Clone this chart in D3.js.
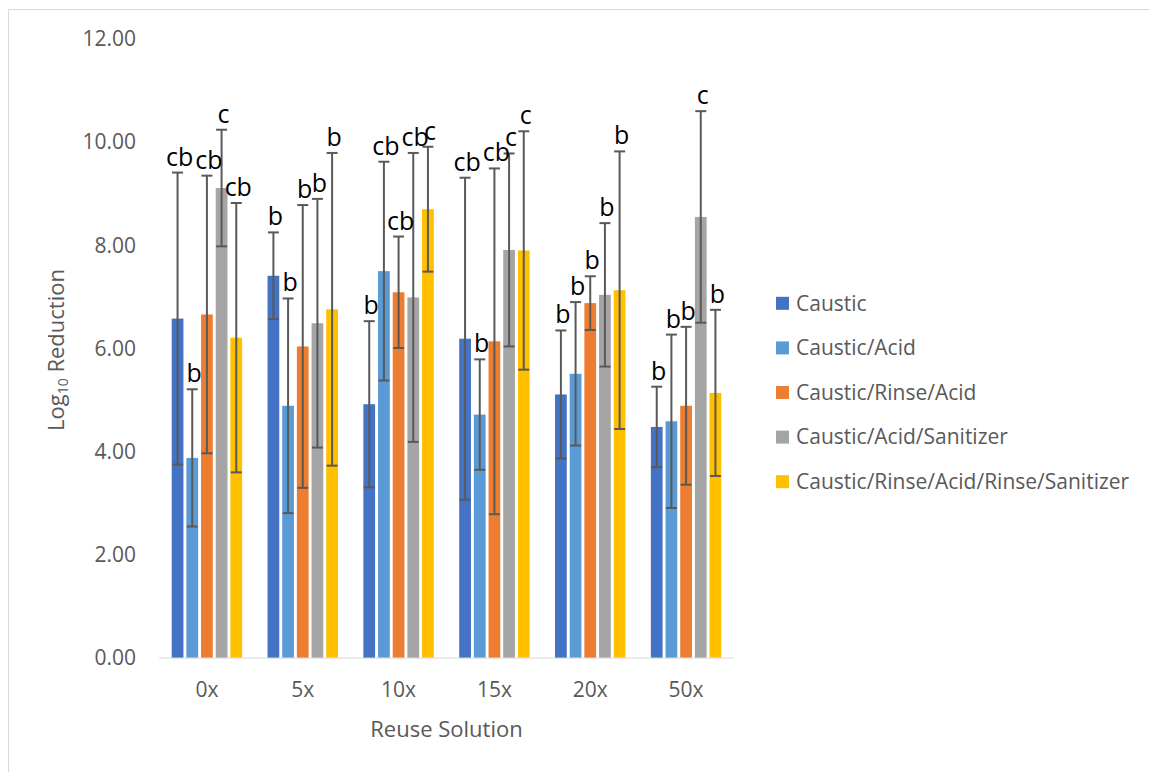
<!DOCTYPE html>
<html><head><meta charset="utf-8">
<script src="https://cdn.jsdelivr.net/npm/d3@7"></script>
<style>
html,body{margin:0;padding:0;background:#fff;}
svg{display:block;font-family:"Open Sans",sans-serif;}
</style></head>
<body>
<svg id="chart" width="1149" height="772"></svg>
<script>
const categories = ["0x","5x","10x","15x","20x","50x"];
const seriesNames = ["Caustic","Caustic/Acid","Caustic/Rinse/Acid","Caustic/Acid/Sanitizer","Caustic/Rinse/Acid/Rinse/Sanitizer"];
const seriesColors = ["#4472C4","#5B9BD5","#ED7D31","#A5A5A5","#FFC000"];
const causticMean = [6.57, 7.40, 4.91, 6.18, 5.10, 4.47];
const causticAcidMean = [3.87, 4.88, 7.49, 4.71, 5.50, 4.58];
const causticRinseAcidMean = [6.65, 6.03, 7.08, 6.13, 6.87, 4.88];
const causticAcidSanitizerMean = [9.10, 6.48, 6.98, 7.90, 7.03, 8.54];
const fullSequenceMean = [6.20, 6.75, 8.69, 7.89, 7.12, 5.13];
const causticErr = [2.83, 0.84, 1.61, 3.12, 1.24, 0.78];
const causticAcidErr = [1.33, 2.08, 2.12, 1.07, 1.39, 1.68];
const causticRinseAcidErr = [2.69, 2.74, 1.08, 3.35, 0.52, 1.53];
const causticAcidSanitizerErr = [1.13, 2.41, 2.80, 1.87, 1.39, 2.05];
const fullSequenceErr = [2.61, 3.03, 1.21, 2.31, 2.69, 1.61];
const causticLetters = ["cb","b","b","cb","b","b"];
const causticAcidLetters = ["b","b","cb","b","b","b"];
const causticRinseAcidLetters = ["cb","b","cb","cb","b","b"];
const causticAcidSanitizerLetters = ["c","b","cb","c","b","c"];
const fullSequenceLetters = ["cb","b","c","c","b","b"];
const yTicks = [0,2,4,6,8,10,12];

const means = [causticMean, causticAcidMean, causticRinseAcidMean, causticAcidSanitizerMean, fullSequenceMean];
const errs = [causticErr, causticAcidErr, causticRinseAcidErr, causticAcidSanitizerErr, fullSequenceErr];
const letters = [causticLetters, causticAcidLetters, causticRinseAcidLetters, causticAcidSanitizerLetters, fullSequenceLetters];

const rows = [];
seriesNames.forEach((s,si)=>{
  categories.forEach((c,ci)=>{
    rows.push({series:s, si, cat:c, v:means[si][ci], e:errs[si][ci], lab:letters[si][ci]});
  });
});

const svg = d3.select("#chart");
const grey = "#595959";

// chart area border
svg.append("rect").attr("x",8.5).attr("y",9.5).attr("width",1200).attr("height",800)
  .attr("fill","none").attr("stroke","#d9d9d9").attr("stroke-width",1);

const plot = {left:159, right:734, top:38.4, bottom:657.6};
const x = d3.scaleBand().domain(categories).range([plot.left, plot.right]).paddingInner(0.265).paddingOuter(0.1325);
const xs = d3.scaleBand().domain(seriesNames).range([0, x.bandwidth()]).paddingInner(0.2).paddingOuter(0);
const y = d3.scaleLinear().domain([0,12]).range([plot.bottom, plot.top]);

// y axis labels
const yAxis = d3.axisLeft(y).tickValues(yTicks).tickFormat(d3.format(".2f")).tickSize(0).tickPadding(0);
const gy = svg.append("g").attr("transform",`translate(136,0)`).call(yAxis);
gy.select(".domain").remove();
gy.selectAll("text").attr("fill",grey).style("font-size","21px").style("font-family","'Open Sans',sans-serif").attr("dy","0.35em");

// x axis
const xAxis = d3.axisBottom(x).tickSize(0).tickPadding(0);
const gx = svg.append("g").attr("transform",`translate(0,${plot.bottom})`).call(xAxis);
gx.select(".domain").remove();
gx.selectAll("text").attr("fill",grey).style("font-size","21px").style("font-family","'Open Sans',sans-serif").attr("dy","0").attr("y",39);
svg.append("line").attr("x1",plot.left).attr("x2",plot.right).attr("y1",plot.bottom+0.5).attr("y2",plot.bottom+0.5)
  .attr("stroke","#d9d9d9").attr("stroke-width",1);

// bars
const bars = svg.append("g");
bars.selectAll("rect").data(rows).join("rect")
  .attr("x",d=>x(d.cat)+xs(d.series))
  .attr("width",xs.bandwidth())
  .attr("y",d=>y(d.v))
  .attr("height",d=>y(0)-y(d.v))
  .attr("fill",d=>seriesColors[d.si]);

// error bars
const eg = svg.append("g").attr("stroke",grey).attr("stroke-width",2);
rows.forEach(d=>{
  const cx = x(d.cat)+xs(d.series)+xs.bandwidth()/2;
  const y1 = y(d.v+d.e), y2 = y(d.v-d.e);
  eg.append("line").attr("x1",cx).attr("x2",cx).attr("y1",y1).attr("y2",y2);
  eg.append("line").attr("x1",cx-5.5).attr("x2",cx+5.5).attr("y1",y1).attr("y2",y1);
  eg.append("line").attr("x1",cx-5.5).attr("x2",cx+5.5).attr("y1",y2).attr("y2",y2);
});

// letters
svg.append("g").selectAll("text").data(rows).join("text")
  .attr("x",d=>x(d.cat)+xs(d.series)+xs.bandwidth()/2+2)
  .attr("y",d=>y(d.v+d.e)-7)
  .attr("text-anchor","middle")
  .attr("fill","#000")
  .style("font-size","25px")
  .text(d=>d.lab);

// axis titles
svg.append("text").attr("x",(plot.left+plot.right)/2).attr("y",729).attr("dy","0.35em")
  .attr("text-anchor","middle").attr("fill",grey).style("font-size","22px").text("Reuse Solution");
const yt = svg.append("text").attr("transform","translate(56,350) rotate(-90)").attr("dy","0.35em")
  .attr("text-anchor","middle").attr("fill",grey).style("font-size","22px");
yt.append("tspan").text("Log");
yt.append("tspan").attr("dy","4").style("font-size","14px").text("10");
yt.append("tspan").attr("dy","-4").text(" Reduction");

// legend
const legend = svg.append("g");
const ly = d3.scalePoint().domain(seriesNames).range([303.3, 481.7]);
seriesNames.forEach((s,i)=>{
  legend.append("rect").attr("x",776).attr("y",ly(s)-6.5).attr("width",13).attr("height",13).attr("fill",seriesColors[i]);
  legend.append("text").attr("x",796).attr("y",ly(s)).attr("dy","0.35em").attr("fill",grey).style("font-size","21px").text(s);
});
</script>
</body></html>
